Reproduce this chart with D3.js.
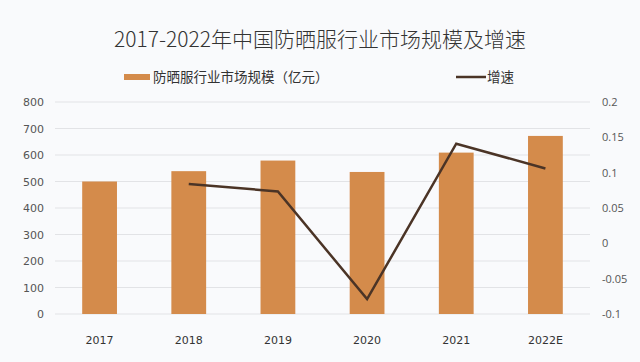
<!DOCTYPE html>
<html>
<head>
<meta charset="utf-8">
<script src="https://cdn.jsdelivr.net/npm/d3@7"></script>
<style>
  body { margin: 0; background: #f9fafc; }
  svg { display: block; font-family: "Noto Sans CJK SC", "Noto Sans", sans-serif; }
</style>
</head>
<body>
<div id="chart"></div>
<script>
const years = ['2017', '2018', '2019', '2020', '2021', '2022E'];
const marketSize = [500, 539, 579, 536, 609, 672];
const growthYears = ['2018', '2019', '2020', '2021', '2022E'];
const growthRate = [0.084, 0.0735, -0.079, 0.141, 0.106];
const leftTicks = [0, 100, 200, 300, 400, 500, 600, 700, 800];
const rightTicks = [-0.1, -0.05, 0, 0.05, 0.1, 0.15, 0.2];

const width = 640;
const height = 362;
const margin = { top: 102, right: 50, bottom: 48, left: 55 };

const svg = d3.select('#chart').append('svg')
  .attr('width', width)
  .attr('height', height);

svg.append('rect')
  .attr('width', width)
  .attr('height', height)
  .attr('fill', '#f9fafc');

const x = d3.scaleBand()
  .domain(years)
  .range([margin.left, width - margin.right])
  .paddingInner(0.61)
  .paddingOuter(0.305);

const yLeft = d3.scaleLinear()
  .domain([0, 800])
  .range([height - margin.bottom, margin.top]);

const yRight = d3.scaleLinear()
  .domain([-0.1, 0.2])
  .range([height - margin.bottom, margin.top]);

// gridlines
svg.append('g')
  .selectAll('line')
  .data(leftTicks)
  .join('line')
  .attr('x1', margin.left)
  .attr('x2', width - margin.right)
  .attr('y1', (d) => yLeft(d))
  .attr('y2', (d) => yLeft(d))
  .attr('stroke', '#e2e3e6')
  .attr('stroke-width', 1);

// left axis
const leftAxis = svg.append('g')
  .attr('transform', `translate(${margin.left - 11},0)`)
  .call(d3.axisLeft(yLeft).tickValues(leftTicks).tickSize(0).tickPadding(0));
leftAxis.select('.domain').remove();
leftAxis.selectAll('text')
  .attr('fill', '#555')
  .style('font-family', '"DejaVu Sans", sans-serif')
  .style('font-size', '11px');

// right axis
const rightAxis = svg.append('g')
  .attr('transform', `translate(${width - margin.right + 12},0)`)
  .call(d3.axisRight(yRight).tickValues(rightTicks).tickSize(0).tickPadding(0)
    .tickFormat((d) => String(+d.toFixed(2))));
rightAxis.select('.domain').remove();
rightAxis.selectAll('text')
  .attr('fill', '#555')
  .style('font-family', '"Open Sans", sans-serif')
  .style('font-size', '11px');

// bottom axis labels
const bottomAxis = svg.append('g')
  .attr('transform', `translate(0,${height - margin.bottom})`)
  .call(d3.axisBottom(x).tickSize(0).tickPadding(22));
bottomAxis.select('.domain').remove();
bottomAxis.selectAll('text')
  .attr('fill', '#333')
  .style('font-family', '"DejaVu Sans", sans-serif')
  .style('font-size', '11px');

// bars
svg.append('g')
  .selectAll('rect')
  .data(marketSize)
  .join('rect')
  .attr('x', (d, i) => x(years[i]))
  .attr('y', (d) => yLeft(d))
  .attr('width', x.bandwidth())
  .attr('height', (d) => yLeft(0) - yLeft(d))
  .attr('fill', '#d48b4b');

// growth line
const line = d3.line()
  .x((d, i) => x(growthYears[i]) + x.bandwidth() / 2)
  .y((d) => yRight(d));

svg.append('path')
  .datum(growthRate)
  .attr('d', line)
  .attr('fill', 'none')
  .attr('stroke', '#4b3426')
  .attr('stroke-width', 2.5)
  .attr('stroke-linejoin', 'miter');

// title
svg.append('text')
  .attr('x', width / 2)
  .attr('y', 47)
  .attr('text-anchor', 'middle')
  .attr('fill', '#333')
  .style('font-size', '21px')
  .style('font-weight', '300')
  .text('2017-2022年中国防晒服行业市场规模及增速');

// legend
const legend = svg.append('g');
legend.append('rect')
  .attr('x', 124)
  .attr('y', 74)
  .attr('width', 26)
  .attr('height', 6)
  .attr('fill', '#d48b4b');
legend.append('text')
  .attr('x', 153)
  .attr('y', 82)
  .attr('fill', '#333')
  .style('font-size', '13.5px')
  .text('防晒服行业市场规模（亿元）');
legend.append('line')
  .attr('x1', 456)
  .attr('x2', 486)
  .attr('y1', 77)
  .attr('y2', 77)
  .attr('stroke', '#4b3426')
  .attr('stroke-width', 2.5);
legend.append('text')
  .attr('x', 487)
  .attr('y', 82)
  .attr('fill', '#333')
  .style('font-size', '13.5px')
  .text('增速');
</script>
</body>
</html>
